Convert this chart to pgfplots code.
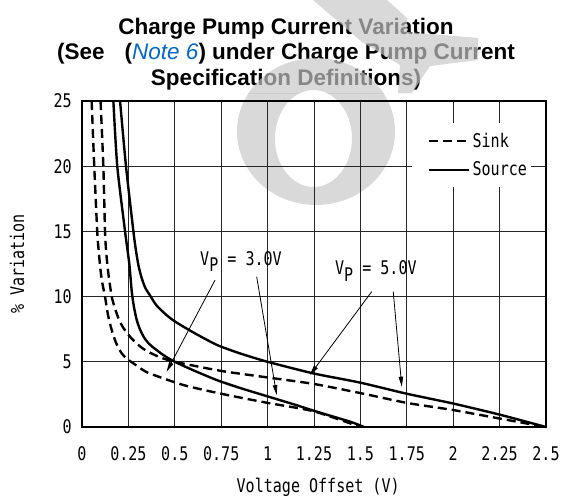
\documentclass[border=0pt]{standalone}
\usepackage{fontspec}
\setmainfont{Liberation Sans}
\newfontfamily\plotfont[FakeStretch=0.8]{DejaVu Sans Mono}
\usepackage{pgfplots}
\pgfplotsset{compat=1.18}
\usetikzlibrary{arrows.meta}
\definecolor{notebl}{RGB}{0,102,204}
\newcommand\pf{\plotfont\fontsize{18.8bp}{21bp}\selectfont}
\newcommand\wmshapes{%
 \fill[even odd rule] (316,131.5) ellipse [x radius=79, y radius=73.5] (313.5,138.5) ellipse [x radius=38.5, y radius=48.5];
 \fill (313,0) -- (387,0) -- (407,18) -- (407,32) -- (478,38) -- (478,60) -- (430,66) -- (412,93) -- (398,93) -- (400,65) -- (362,42) -- cycle;
}
\begin{document}
\begin{tikzpicture}
\useasboundingbox (0,0) rectangle (563bp,-500bp);
\begin{scope}[x=1bp,y=-1bp]
 \clip (0,93) rectangle (563,500);
 \begin{scope}[black!15]
 \wmshapes
 \end{scope}
\end{scope}
\begin{axis}[
 at={(82bp,-427bp)}, anchor=south west, scale only axis, width=464bp, height=326bp,
 xmin=0, xmax=2.5, ymin=0, ymax=25,
 xtick={0,0.25,0.5,0.75,1,1.25,1.5,1.75,2,2.25,2.5},
 xticklabels={0,0.25,0.5,0.75,1,1.25,1.5,1.75,2,2.25,2.5},
 ytick={0,5,10,15,20,25}, yticklabels={0,5,10,15,20,25},
 grid=major, major grid style={black!85, line width=0.7bp},
 major tick length=0pt,
 axis line style={black, line width=1.3bp},
 xticklabel style={font=\pf, anchor=base, yshift=-33bp, inner sep=0pt},
 yticklabel style={font=\pf, anchor=east, xshift=-10bp, inner sep=0pt},
 xlabel={Voltage Offset (V)}, ylabel={\% Variation},
 xlabel style={font=\pf, at={(axis description cs:0.509,-0.184)}, anchor=center},
 ylabel style={font=\pf, at={(axis description cs:-0.14,0.5)}, anchor=center},
 clip=false,
 legend style={at={(axis cs:1.778,23.31)}, anchor=north west, fill=white, draw=none, font=\pf, inner xsep=2bp, inner ysep=8bp, row sep=9bp},
 legend cell align=left,
 legend image code/.code={\path (0bp,0bp); \draw[#1] (14bp,0bp) -- (54bp,0bp);},
]
% Sink, Vp = 5.0V
\addplot[black, line width=2.4bp, dash pattern=on 9bp off 5bp, smooth, tension=0.4] coordinates {
 (0.1,25) (0.115,20) (0.124,15) (0.13,13.5) (0.14,12) (0.16,10) (0.18,9.0) (0.2,8.2) (0.223,7.6)
 (0.26,6.9) (0.295,6.4) (0.33,6.0) (0.366,5.7) (0.42,5.35) (0.5,5.0)
 (0.75,4.3) (1.0,3.8) (1.25,3.3) (1.5,2.6) (1.75,1.85) (2.0,1.3) (2.25,0.65) (2.5,0)};
\addlegendentry{Sink}
% Source, Vp = 5.0V
\addplot[black, line width=2.4bp, smooth, tension=0.4] coordinates {
 (0.205,25) (0.237,20) (0.277,15) (0.29,13.6) (0.304,12.4) (0.32,11.5) (0.34,10.7) (0.366,10.1)
 (0.4,9.35) (0.45,8.65) (0.5,8.1) (0.6,7.25)
 (0.726,6.3) (0.85,5.65) (1.0,5.0) (1.25,4.1) (1.5,3.4) (1.75,2.55) (2.0,1.8) (2.25,0.95) (2.5,0)};
\addlegendentry{Source}
% Sink, Vp = 3.0V
\addplot[black, line width=2.4bp, dash pattern=on 9bp off 5bp, smooth, tension=0.4, forget plot] coordinates {
 (0.052,25) (0.066,20) (0.082,15) (0.09,13.5) (0.1,12) (0.11,11) (0.124,10) (0.14,8.6) (0.16,7.44)
 (0.185,6.4) (0.214,5.65) (0.24,5.25) (0.27,4.95) (0.32,4.45) (0.366,4.1)
 (0.546,3.22) (0.75,2.55) (1.0,1.85) (1.25,1.2) (1.5,0)};
% Source, Vp = 3.0V
\addplot[black, line width=2.4bp, smooth, tension=0.4, forget plot] coordinates {
 (0.169,25) (0.19,20) (0.232,15) (0.255,12.5) (0.268,10.4) (0.28,9.2) (0.295,8.2) (0.312,7.5)
 (0.335,6.85) (0.36,6.4) (0.384,6.1) (0.44,5.5) (0.5,5.0) (0.6,4.35) (0.726,3.6) (0.85,3.0)
 (1.004,2.33) (1.15,1.7) (1.264,1.18) (1.444,0.41) (1.52,0)};
% annotations
\node[anchor=base west, font=\pf, inner sep=0pt] at (axis cs:0.636,12.42) {V\raisebox{-6.5bp}{P} = 3.0V};
\node[anchor=base west, font=\pf, inner sep=0pt] at (axis cs:1.363,11.66) {V\raisebox{-6.5bp}{P} = 5.0V};
\draw[line width=0.8bp, -{Triangle[length=10bp,width=4.5bp]}] (axis cs:0.717,11.27) -- (axis cs:0.456,4.24);
\draw[line width=0.8bp, -{Triangle[length=10bp,width=4.5bp]}] (axis cs:0.941,11.53) -- (axis cs:1.049,2.45);
\draw[line width=0.8bp, -{Triangle[length=10bp,width=4.5bp]}] (axis cs:1.561,10.38) -- (axis cs:1.228,3.99);
\draw[line width=0.8bp, -{Triangle[length=10bp,width=4.5bp]}] (axis cs:1.677,10.38) -- (axis cs:1.723,3.09);
\end{axis}
\begin{scope}[x=1bp,y=-1bp]
 \node[align=center, font=\fontsize{22.5bp}{25.5bp}\selectfont\bfseries, inner sep=0pt] at (286,54)
 {Charge Pump Current Variation\\(See\hspace{20bp}({\color{notebl}\mdseries\itshape Note 6}) under Charge Pump Current\\Specification Definitions)};
\end{scope}
\begin{scope}[x=1bp,y=-1bp]
 \clip (0,0) rectangle (563,93);
 \begin{scope}[black!22, opacity=0.68]
 \wmshapes
 \end{scope}
\end{scope}
\end{tikzpicture}
\end{document}
